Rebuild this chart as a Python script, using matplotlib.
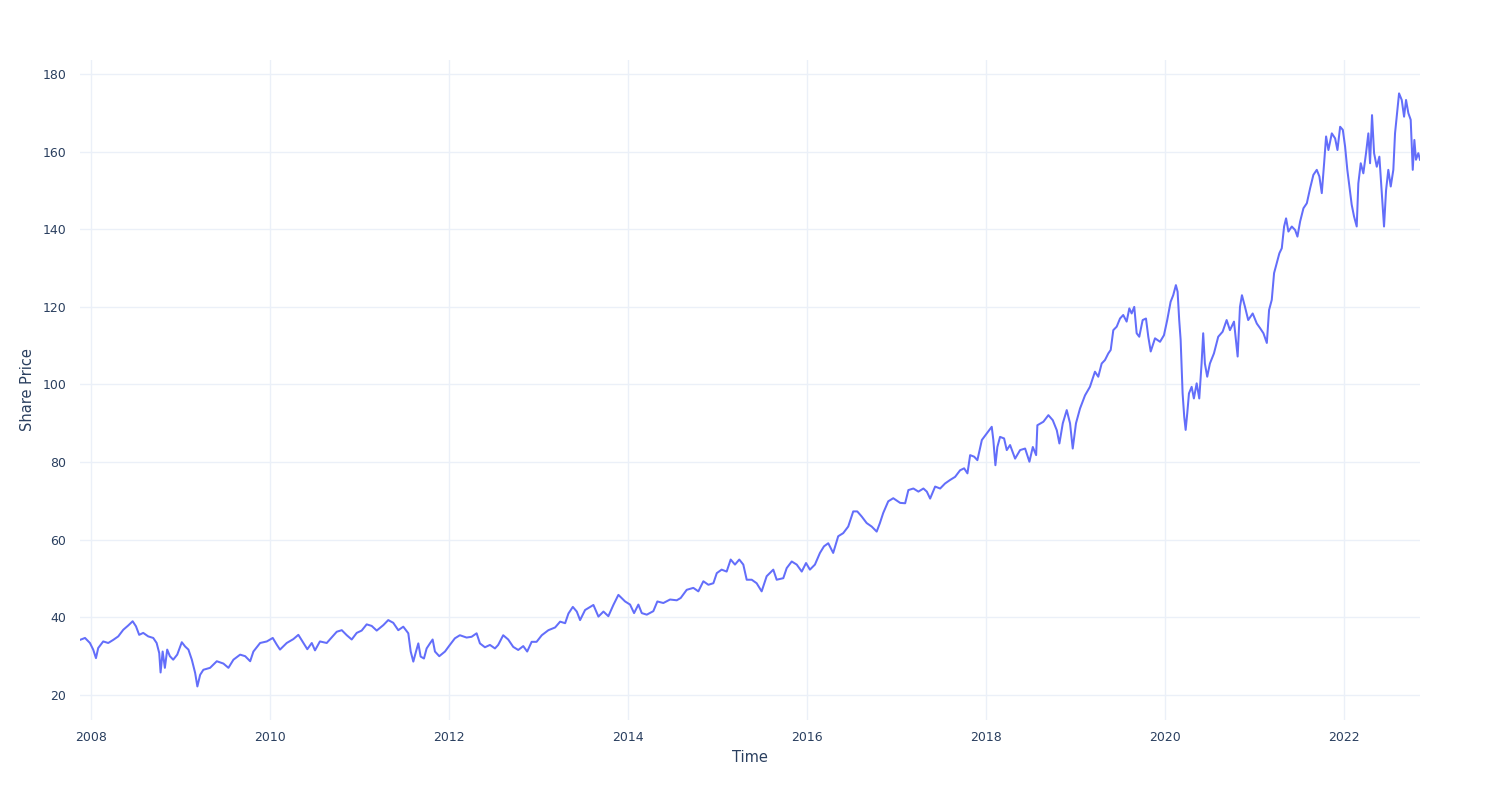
import pandas as pd
import matplotlib.pyplot as plt
import matplotlib.dates as mdates

# share price, time as decimal years
years_2008_2010 = [2007.874, 2007.930, 2007.985, 2008.022, 2008.053, 2008.078, 2008.134, 2008.190,
                   2008.246, 2008.302, 2008.358, 2008.413, 2008.463, 2008.500, 2008.536, 2008.581,
                   2008.637, 2008.693, 2008.731, 2008.760, 2008.775, 2008.798, 2008.823, 2008.849,
                   2008.879, 2008.916, 2008.961, 2009.010, 2009.047, 2009.084, 2009.122, 2009.159,
                   2009.184, 2009.215, 2009.251, 2009.326, 2009.401, 2009.475, 2009.531, 2009.587,
                   2009.662, 2009.718, 2009.774, 2009.810, 2009.885, 2009.960, 2010.027, 2010.071,
                   2010.108, 2010.183, 2010.257, 2010.313, 2010.369, 2010.413, 2010.463, 2010.499,
                   2010.554, 2010.630]
price_2008_2010 = [34.2, 34.7, 33.4, 31.7, 29.5, 32.1, 33.8, 33.4,
                   34.2, 35.1, 36.8, 37.9, 39.0, 37.7, 35.5, 36.0,
                   35.1, 34.7, 33.4, 30.8, 25.8, 31.2, 27.0, 31.7,
                   30.0, 29.1, 30.4, 33.6, 32.5, 31.7, 29.1, 25.7,
                   22.2, 25.2, 26.5, 27.0, 28.7, 28.1, 27.0, 29.1,
                   30.4, 30.0, 28.7, 31.2, 33.4, 33.8, 34.7, 33.0,
                   31.7, 33.4, 34.4, 35.5, 33.4, 31.8, 33.4, 31.5,
                   33.8, 33.4]

years_2010_2014 = [2010.742, 2010.798, 2010.854, 2010.909, 2010.965, 2011.021, 2011.077, 2011.133,
                   2011.189, 2011.263, 2011.318, 2011.374, 2011.430, 2011.486, 2011.542, 2011.569,
                   2011.598, 2011.628, 2011.654, 2011.680, 2011.717, 2011.747, 2011.784, 2011.814,
                   2011.840, 2011.888, 2011.952, 2012.007, 2012.063, 2012.119, 2012.194, 2012.250,
                   2012.306, 2012.343, 2012.399, 2012.455, 2012.511, 2012.547, 2012.603, 2012.659,
                   2012.715, 2012.771, 2012.827, 2012.871, 2012.921, 2012.976, 2013.032, 2013.106,
                   2013.181, 2013.237, 2013.293, 2013.330, 2013.379, 2013.423, 2013.460, 2013.516,
                   2013.609, 2013.665, 2013.721, 2013.776, 2013.832, 2013.888]
price_2010_2014 = [36.3, 36.7, 35.4, 34.3, 36.0, 36.6, 38.2, 37.8,
                   36.6, 38.0, 39.3, 38.6, 36.7, 37.6, 35.9, 31.2,
                   28.6, 31.2, 33.3, 29.9, 29.4, 32.0, 33.3, 34.3,
                   31.2, 30.0, 31.2, 32.9, 34.6, 35.4, 34.8, 35.0,
                   35.9, 33.3, 32.3, 32.9, 32.0, 32.9, 35.4, 34.3,
                   32.4, 31.6, 32.6, 31.2, 33.7, 33.7, 35.4, 36.7,
                   37.4, 38.9, 38.5, 41.0, 42.7, 41.5, 39.3, 41.9,
                   43.2, 40.2, 41.5, 40.3, 43.2, 45.8]

years_2014_2017 = [2013.963, 2014.019, 2014.064, 2014.112, 2014.150, 2014.206, 2014.279, 2014.324,
                   2014.391, 2014.466, 2014.541, 2014.585, 2014.652, 2014.726, 2014.782, 2014.838,
                   2014.894, 2014.950, 2014.988, 2015.043, 2015.099, 2015.144, 2015.192, 2015.240,
                   2015.285, 2015.323, 2015.379, 2015.434, 2015.490, 2015.546, 2015.620, 2015.658,
                   2015.732, 2015.770, 2015.826, 2015.882, 2015.938, 2015.986, 2016.030, 2016.086,
                   2016.142, 2016.187, 2016.235, 2016.290, 2016.346, 2016.402, 2016.458, 2016.514,
                   2016.559, 2016.608, 2016.664, 2016.720, 2016.776, 2016.812, 2016.849, 2016.905,
                   2016.961]
price_2014_2017 = [44.1, 43.3, 41.1, 43.3, 41.1, 40.7, 41.6, 44.1,
                   43.7, 44.6, 44.4, 45.0, 47.1, 47.6, 46.7, 49.3,
                   48.4, 48.8, 51.4, 52.3, 51.8, 54.9, 53.6, 54.9,
                   53.6, 49.7, 49.7, 48.8, 46.7, 50.6, 52.3, 49.7,
                   50.1, 52.7, 54.4, 53.6, 51.8, 54.0, 52.3, 53.6,
                   56.6, 58.3, 59.1, 56.6, 60.9, 61.7, 63.4, 67.3,
                   67.3, 66.0, 64.3, 63.4, 62.1, 64.3, 66.9, 69.9,
                   70.7]

years_2017_2019 = [2017.036, 2017.092, 2017.128, 2017.184, 2017.240, 2017.296, 2017.334, 2017.371,
                   2017.427, 2017.483, 2017.538, 2017.594, 2017.650, 2017.706, 2017.751, 2017.788,
                   2017.818, 2017.863, 2017.899, 2017.949, 2018.005, 2018.060, 2018.078, 2018.101,
                   2018.123, 2018.153, 2018.198, 2018.228, 2018.265, 2018.321, 2018.377, 2018.433,
                   2018.481, 2018.519, 2018.556, 2018.570, 2018.637, 2018.693, 2018.742, 2018.787,
                   2018.816, 2018.854, 2018.898, 2018.935, 2018.965, 2019.002, 2019.047, 2019.103]
price_2017_2019 = [69.5, 69.4, 72.8, 73.2, 72.4, 73.2, 72.4, 70.6,
                   73.7, 73.2, 74.5, 75.4, 76.2, 77.9, 78.4, 77.1,
                   81.8, 81.4, 80.5, 85.7, 87.4, 89.1, 85.7, 79.2,
                   83.9, 86.5, 86.1, 83.1, 84.4, 80.9, 83.1, 83.5,
                   80.1, 83.9, 81.8, 89.5, 90.4, 92.1, 90.8, 88.2,
                   84.8, 90.0, 93.4, 90.0, 83.5, 90.0, 93.8, 97.2]

years_2019_2021 = [2019.158, 2019.214, 2019.251, 2019.289, 2019.326, 2019.363, 2019.390, 2019.419,
                   2019.457, 2019.494, 2019.530, 2019.568, 2019.598, 2019.624, 2019.653, 2019.680,
                   2019.709, 2019.747, 2019.784, 2019.810, 2019.837, 2019.885, 2019.941, 2019.985,
                   2020.022, 2020.060, 2020.089, 2020.119, 2020.138, 2020.156, 2020.172, 2020.194,
                   2020.212, 2020.228, 2020.246, 2020.265, 2020.295, 2020.320, 2020.351, 2020.380,
                   2020.406, 2020.424, 2020.443, 2020.469, 2020.499, 2020.544, 2020.592, 2020.641,
                   2020.686, 2020.723, 2020.768, 2020.809, 2020.835, 2020.857, 2020.891, 2020.927,
                   2020.977, 2021.021]
price_2019_2021 = [99.4, 103.3, 102.0, 105.4, 106.3, 108.0, 108.9, 114.0,
                   114.9, 117.0, 117.9, 116.2, 119.6, 118.3, 120.0, 113.2,
                   112.3, 116.6, 117.0, 112.3, 108.5, 111.9, 111.0, 112.7,
                   116.6, 121.3, 123.0, 125.6, 123.9, 116.6, 111.5, 97.7,
                   91.7, 88.3, 92.6, 97.7, 99.4, 96.4, 100.3, 96.4,
                   105.4, 113.2, 105.4, 102.0, 105.4, 108.0, 112.3, 113.6,
                   116.6, 114.0, 116.2, 107.2, 120.0, 123.0, 120.0, 116.6,
                   118.3, 115.7]

years_2021_2022 = [2021.058, 2021.095, 2021.133, 2021.158, 2021.188, 2021.214, 2021.244, 2021.273,
                   2021.300, 2021.326, 2021.348, 2021.374, 2021.412, 2021.449, 2021.475, 2021.505,
                   2021.542, 2021.580, 2021.617, 2021.653, 2021.691, 2021.720, 2021.747, 2021.773,
                   2021.795, 2021.821, 2021.859, 2021.896, 2021.922, 2021.952, 2021.982, 2022.008,
                   2022.033, 2022.056, 2022.082, 2022.108, 2022.138, 2022.156, 2022.183, 2022.212,
                   2022.242, 2022.268, 2022.287, 2022.309, 2022.332, 2022.362, 2022.391, 2022.418,
                   2022.443, 2022.466, 2022.491, 2022.518, 2022.547, 2022.566, 2022.585, 2022.611,
                   2022.641, 2022.667, 2022.689, 2022.715, 2022.741, 2022.764, 2022.782, 2022.800,
                   2022.826, 2022.845]
price_2021_2022 = [114.5, 113.2, 110.7, 119.2, 121.8, 128.7, 131.3, 133.8,
                   135.1, 140.7, 142.8, 139.4, 140.7, 139.8, 138.1, 142.0,
                   145.4, 146.7, 150.6, 154.0, 155.3, 153.6, 149.3, 157.0,
                   163.9, 160.4, 164.7, 163.4, 160.4, 166.4, 165.6, 161.3,
                   155.3, 151.0, 146.3, 143.3, 140.7, 151.8, 157.0, 154.4,
                   159.6, 164.7, 157.0, 169.4, 159.6, 156.1, 158.7, 149.3,
                   140.7, 150.1, 155.3, 151.0, 155.3, 164.7, 169.0, 175.0,
                   173.3, 169.0, 173.3, 169.9, 168.2, 155.3, 163.0, 157.9,
                   159.6, 157.9]

tick_years = [2008, 2010, 2012, 2014, 2016, 2018, 2020, 2022]
price_ticks = [20, 40, 60, 80, 100, 120, 140, 160, 180]


def to_dates(years):
    s = pd.Series(years)
    start = pd.to_datetime(s.astype(int).astype(str) + "-01-01")
    return start + pd.to_timedelta((s % 1) * 365.25, unit="D")


years = (years_2008_2010 + years_2010_2014 + years_2014_2017 +
         years_2017_2019 + years_2019_2021 + years_2021_2022)
price = (price_2008_2010 + price_2010_2014 + price_2014_2017 +
         price_2017_2019 + price_2019_2021 + price_2021_2022)
dates = to_dates(years)

text_color = "#2a3f5f"
grid_color = "#ebf0f8"

fig = plt.figure(figsize=(15, 8), dpi=100)
ax = fig.add_axes([80 / 1500, 80 / 800, 1340 / 1500, 660 / 800])

ax.plot(dates, price, color="#636efa", linewidth=1.45)

ax.set_xlim(dates.iloc[0], dates.iloc[-1])
ax.set_ylim(13.56, 183.6)
ax.set_xticks(to_dates(tick_years))
ax.xaxis.set_major_formatter(mdates.DateFormatter("%Y"))
ax.set_yticks(price_ticks)

ax.grid(True, color=grid_color, linewidth=1)
ax.set_axisbelow(True)
for s in ax.spines.values():
    s.set_visible(False)
ax.tick_params(length=0, labelsize=9, colors=text_color)
ax.tick_params(axis="x", pad=8)
ax.tick_params(axis="y", pad=10)

ax.set_xlabel("Time", fontsize=10.5, color=text_color, labelpad=4)
ax.set_ylabel("Share Price", fontsize=10.5, color=text_color, labelpad=5)

fig.savefig("out.png", dpi=100, facecolor="white")
